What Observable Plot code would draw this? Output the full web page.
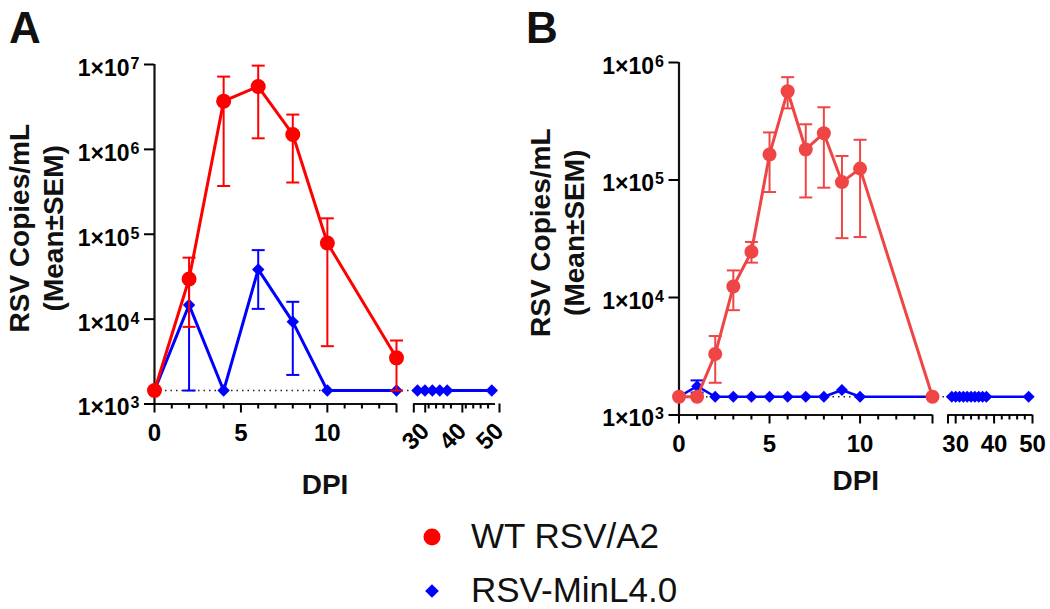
<!DOCTYPE html>
<html>
<head>
<meta charset="utf-8">
<script src="https://cdn.jsdelivr.net/npm/d3@7"></script>
<script src="https://cdn.jsdelivr.net/npm/@observablehq/plot@0.6"></script>
<style>
  html, body { margin: 0; padding: 0; background: #fff; }
  #wrap { position: relative; width: 1050px; height: 609px; overflow: hidden; font-family: "Liberation Sans", Arial, sans-serif; }
  #panelA, #panelB, #overlay { position: absolute; top: 0; }
  #panelA { left: 0; }
  #panelB { left: 520px; }
  #overlay { left: 0; pointer-events: none; }
</style>
</head>
<body>
<div id="wrap">
  <div id="panelA"></div>
  <div id="panelB"></div>
  <svg id="overlay" width="1050" height="609"></svg>
</div>
<script>
// ---------------- DATA ----------------
const seriesNames = ["WT RSV/A2", "RSV-MinL4.0"];
const panelLetters = ["A", "B"];
const yTitle = "RSV Copies/mL\n(Mean±SEM)";
const xTitle = "DPI";
const xSegments = [[0, 14], [28, 50]];
const xLabelTicksLeft = [0, 5, 10];
const xLabelTicksRight = [30, 40, 50];

// Panel A
const yTicksA = [1e3, 1e4, 1e5, 1e6, 1e7];
const lodA = 1.44e3;
const wtDaysA = [0, 2, 4, 6, 8, 10, 14];
const wtMeanA = [1.44e3, 2.97e4, 3.7e6, 5.5e6, 1.5e6, 7.9e4, 3.5e3];
const wtHiA   = [null, 5.3e4, 7.2e6, 9.7e6, 2.57e6, 1.54e5, 5.6e3];
const wtLoA   = [null, 8.1e3, 3.7e5, 1.35e6, 4.07e5, 4.8e3, 1.44e3];
const minDaysA = [0, 2, 4, 6, 8, 10, 14, 29, 31, 33, 35, 37, 49];
const minMeanA = [1.44e3, 1.47e4, 1.44e3, 3.85e4, 9.3e3, 1.44e3, 1.44e3, 1.44e3, 1.44e3, 1.44e3, 1.44e3, 1.44e3, 1.44e3];
const minHiA   = [null, 2.8e4, null, 6.5e4, 1.6e4, null, null, null, null, null, null, null, null];
const minLoA   = [null, 1.44e3, null, 1.32e4, 2.2e3, null, null, null, null, null, null, null, null];

// Panel B
const yTicksB = [1e3, 1e4, 1e5, 1e6];
const lodB = 1.43e3;
const wtDaysB = [0, 1, 2, 3, 4, 5, 6, 7, 8, 9, 10, 14];
const wtMeanB = [1.43e3, 1.43e3, 3.3e3, 1.24e4, 2.45e4, 1.65e5, 5.7e5, 1.82e5, 2.5e5, 9.6e4, 1.25e5, 1.43e3];
const wtHiB   = [null, null, 4.7e3, 1.7e4, 2.97e4, 2.54e5, 7.5e5, 2.98e5, 4.16e5, 1.6e5, 2.2e5, null];
const wtLoB   = [null, null, 1.88e3, 7.8e3, 1.98e4, 7.9e4, 4.07e5, 7.1e4, 8.6e4, 3.2e4, 3.27e4, null];
const minDaysB = [0, 1, 2, 3, 4, 5, 6, 7, 8, 9, 10, 14, 29, 30, 31, 32, 33, 34, 35, 36, 37, 38, 49];
const minMeanB = [1.43e3, 1.76e3, 1.43e3, 1.43e3, 1.43e3, 1.43e3, 1.43e3, 1.43e3, 1.43e3, 1.63e3, 1.43e3, 1.43e3,
                  1.43e3, 1.43e3, 1.43e3, 1.43e3, 1.43e3, 1.43e3, 1.43e3, 1.43e3, 1.43e3, 1.43e3, 1.43e3];
const minHiB   = [null, 1.97e3, null, null, null, null, null, null, null, null, null, null,
                  null, null, null, null, null, null, null, null, null, null, null];
const minLoB   = [null, 1.55e3, null, null, null, null, null, null, null, null, null, null,
                  null, null, null, null, null, null, null, null, null, null, null];

// ---------------- STYLE ----------------
const redA = "#ff0000";
const redB = "#f04545";
const blue = "#0000ff";
const FONT = "'Liberation Sans', Arial, sans-serif";

// ---------------- HELPERS ----------------
function rows(days, mean, hi, lo) {
  return days.map((d, i) => ({
    day: d, value: mean[i], hi: hi[i], lo: lo[i],
    seg: d >= xSegments[1][0] ? 1 : 0
  }));
}
const capSymbol = {
  draw(context, size) {
    const w = Math.sqrt(size / Math.PI);
    context.moveTo(-w, 0);
    context.lineTo(w, 0);
  }
};
function seriesMarks(data, color, symbol, r, lineWidth) {
  const err = data.filter(d => d.hi != null);
  return [
    Plot.ruleX(err, {x: "day", y1: "lo", y2: "hi", stroke: color, strokeWidth: 2}),
    Plot.dot(err, {x: "day", y: "hi", symbol: capSymbol, r: 6.5, stroke: color, strokeWidth: 2, fill: "none"}),
    Plot.dot(err, {x: "day", y: "lo", symbol: capSymbol, r: 6.5, stroke: color, strokeWidth: 2, fill: "none"}),
    Plot.line(data, {x: "day", y: "value", z: "seg", stroke: color, strokeWidth: lineWidth}),
    Plot.dot(data, {x: "day", y: "value", symbol, r, fill: color, stroke: "none"})
  ];
}
function supFormat(d) { return "1×10^" + Math.round(Math.log10(d)); }

function makePanel(cfg) {
  const yMin = cfg.yTicks[0], yMax = cfg.yTicks[cfg.yTicks.length - 1];
  const allLeft = d3.range(xSegments[0][0], xSegments[0][1] + 1);
  const allRight = d3.range(xSegments[1][0], xSegments[1][1] + 1, 2);
  const majorsUnlabeled = [xSegments[0][1], xSegments[1][0]];
  const minors = allLeft.concat(allRight).filter(t =>
    !xLabelTicksLeft.includes(t) && !xLabelTicksRight.includes(t) && !majorsUnlabeled.includes(t));

  const chart = Plot.plot({
    width: cfg.width, height: cfg.height,
    marginLeft: cfg.xRange[0], marginRight: cfg.width - cfg.xRange[3],
    marginTop: cfg.top, marginBottom: cfg.height - cfg.bottom,
    style: {fontFamily: FONT, fontWeight: "bold", fontSize: "24px", overflow: "visible", background: "transparent"},
    x: {type: "linear", domain: [xSegments[0][0], xSegments[0][1], xSegments[1][0], xSegments[1][1]], range: cfg.xRange},
    y: {type: "log", domain: [yMin, yMax], range: [cfg.bottom, cfg.top]},
    marks: [
      // limit of detection dotted line
      Plot.ruleY([cfg.lod], {x1: xSegments[0][0], x2: xSegments[1][0], stroke: "#222", strokeWidth: 1.6, strokeDasharray: "1.5,4"}),
      // axis lines
      Plot.ruleX([xSegments[0][0]], {y1: yMin, y2: yMax, stroke: "#111", strokeWidth: 2.2}),
      Plot.ruleY(xSegments, {x1: d => d[0], x2: d => d[1], y: () => yMin, stroke: "#111", strokeWidth: 2.2}),
      // y axis (ticks, then labels)
      Plot.axisY(cfg.yTicks, {tickSize: 10, strokeWidth: 2, tickFormat: () => "", label: null}),
      Plot.axisY(cfg.yTicks, {tickSize: 0, tickPadding: 15, fontSize: 23, tickFormat: supFormat, dy: 4, label: null}),
      // x axis
      Plot.axisX(xLabelTicksLeft, {tickSize: 9, tickPadding: 11, strokeWidth: 2, fontSize: 24, tickFormat: d => String(d), label: null}),
      cfg.rotateRight
        ? Plot.axisX(xLabelTicksRight, {tickSize: 9, tickPadding: 14, tickRotate: -45, dx: 4, strokeWidth: 2, fontSize: 24, tickFormat: d => String(d), label: null})
        : Plot.axisX(xLabelTicksRight, {tickSize: 9, tickPadding: 11, strokeWidth: 2, fontSize: 24, tickFormat: d => String(d), label: null}),
      Plot.axisX(majorsUnlabeled, {tickSize: 9, strokeWidth: 2, tickFormat: () => "", label: null}),
      Plot.axisX(minors, {tickSize: 5, strokeWidth: 2, tickFormat: () => "", label: null}),
      // titles
      Plot.text([yTitle], {frameAnchor: "left", rotate: -90, textAnchor: "middle", lineAnchor: "middle", lineHeight: 1.2,
        fontSize: 28, fontWeight: "bold", dx: cfg.titleDx, dy: cfg.titleDy, fill: "#111"}),
      Plot.text([xTitle], {frameAnchor: "bottom", textAnchor: "middle", lineAnchor: "middle", fontSize: 28, fontWeight: "bold", dy: cfg.dpiDy, fill: "#111"}),
      // data (blue below, red on top)
      ...seriesMarks(cfg.minRows, blue, "diamond2", cfg.rMin, cfg.minWidth),
      ...seriesMarks(cfg.wtRows, cfg.red, "circle", cfg.rWt, 3)
    ]
  });
  // add superscript exponents to y tick labels
  chart.querySelectorAll("text").forEach(t => {
    const s = t.textContent;
    if (s.includes("^") && t.children.length === 0) {
      const [base, exp] = s.split("^");
      t.textContent = base;
      const ts = document.createElementNS("http://www.w3.org/2000/svg", "tspan");
      ts.setAttribute("dy", "-7");
      ts.setAttribute("dx", "1");
      ts.setAttribute("font-size", "16");
      ts.textContent = exp;
      t.appendChild(ts);
    }
  });
  return chart;
}

document.getElementById("panelA").appendChild(makePanel({
  width: 520, height: 500, top: 64, bottom: 403.5,
  xRange: [154, 396, 413.3, 495],
  yTicks: yTicksA, lod: lodA, rotateRight: true,
  titleDx: -119, titleDy: -6, dpiDy: 81,
  wtRows: rows(wtDaysA, wtMeanA, wtHiA, wtLoA),
  minRows: rows(minDaysA, minMeanA, minHiA, minLoA),
  red: redA, rWt: 7.5, rMin: 5.6, minWidth: 3
}));

document.getElementById("panelB").appendChild(makePanel({
  width: 530, height: 500, top: 62, bottom: 414.5,
  xRange: [158.5, 412, 427.5, 512],
  yTicks: yTicksB, lod: lodB, rotateRight: false,
  titleDx: -123, titleDy: -6, dpiDy: 66,
  wtRows: rows(wtDaysB, wtMeanB, wtHiB, wtLoB),
  minRows: rows(minDaysB, minMeanB, minHiB, minLoB),
  red: redB, rWt: 7, rMin: 5.4, minWidth: 2.6
}));

// ---------------- OVERLAY: panel letters + legend ----------------
const ov = d3.select("#overlay");
const letterX = [9, 526];
panelLetters.forEach((L, i) => {
  ov.append("text").attr("x", letterX[i]).attr("y", 43)
    .attr("font-family", FONT).attr("font-weight", "bold").attr("font-size", 44).attr("fill", "#111").text(L);
});
const legendColors = [redA, blue];
const legendY = [537, 591];
seriesNames.forEach((name, i) => {
  const g = ov.append("g").attr("transform", `translate(432,${legendY[i]})`);
  if (i === 0) g.append("circle").attr("r", 8.5).attr("fill", legendColors[i]);
  else g.append("path").attr("d", d3.symbol(d3.symbolDiamond2, 120)()).attr("fill", legendColors[i]);
  ov.append("text").attr("x", 471).attr("y", legendY[i] + 11)
    .attr("font-family", FONT).attr("font-size", 35).attr("fill", "#111").text(name);
});
</script>
</body>
</html>
